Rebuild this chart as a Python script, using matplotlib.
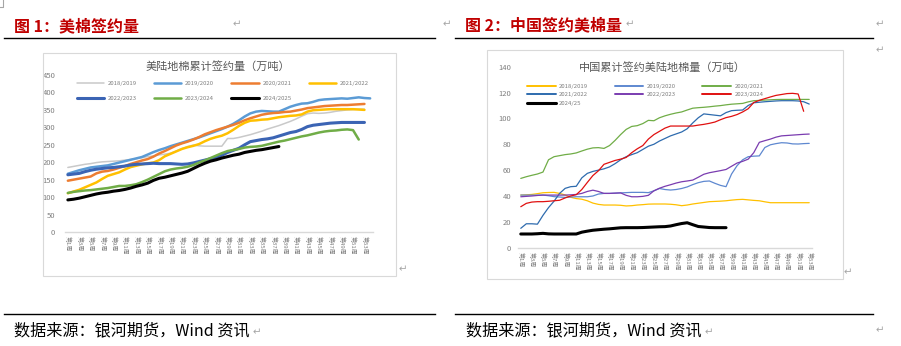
import matplotlib
matplotlib.use('Agg')
import matplotlib.pyplot as plt
from matplotlib.lines import Line2D
from matplotlib.patches import Rectangle

plt.rcParams['font.family'] = ['Noto Sans CJK SC', 'DejaVu Sans']

W, H = 901, 346

# ---------- 美陆地棉累计签约量（万吨），按周 ----------
us_seasons = ['2018/2019', '2019/2020', '2020/2021', '2021/2022',
              '2022/2023', '2023/2024', '2024/2025']
us_1819 = [185, 188, 191, 194, 196, 199, 201, 202, 203, 204, 206, 208, 210, 213, 216, 218, 221, 223,
           226, 232, 239, 245, 249, 247, 246, 246, 246, 246, 268, 268, 271, 275, 279, 284, 289, 295,
           300, 305, 311, 317, 324, 332, 339, 341, 340, 341, 343, 346, 348, 350, 351, 352, 352]
us_1920 = [167, 172, 177, 181, 185, 187, 189, 191, 195, 199, 203, 207, 211, 215, 222, 229, 235, 240,
           246, 251, 256, 261, 266, 271, 277, 283, 289, 295, 302, 310, 320, 331, 340, 345, 347, 346,
           345, 345, 352, 359, 364, 368, 369, 373, 378, 380, 381, 382, 383, 382, 384, 386, 384, 383]
us_2021 = [147, 150, 153, 156, 159, 168, 173, 175, 179, 184, 189, 195, 200, 205, 209, 216, 225, 232,
           240, 248, 254, 259, 265, 272, 280, 286, 292, 297, 302, 307, 313, 320, 326, 331, 336, 339,
           341, 342, 344, 345, 348, 351, 355, 357, 359, 361, 362, 363, 364, 364, 365, 366, 367]
us_2122 = [111, 116, 121, 128, 135, 142, 152, 161, 166, 171, 179, 186, 190, 194, 197, 199, 206, 217,
           224, 231, 238, 243, 247, 252, 260, 267, 272, 276, 283, 293, 304, 313, 319, 320, 322, 323,
           326, 329, 331, 333, 334, 337, 345, 349, 350, 351, 352, 352, 352, 352, 352, 351, 350]
us_2223 = [164, 166, 168, 173, 177, 180, 182, 184, 185, 187, 189, 192, 194, 195, 196, 197, 196, 196,
           196, 195, 194, 195, 198, 202, 206, 210, 214, 220, 228, 234, 240, 250, 259, 262, 265, 267,
           270, 275, 280, 285, 288, 294, 302, 306, 308, 310, 312, 313, 314, 314, 314, 314, 314]
us_2324 = [112, 115, 117, 119, 120, 122, 124, 126, 129, 132, 132, 134, 137, 143, 150, 158, 166, 174,
           179, 182, 184, 187, 192, 199, 205, 212, 219, 226, 232, 235, 238, 242, 244, 245, 247, 251,
           255, 259, 262, 266, 270, 274, 277, 281, 285, 288, 290, 291, 293, 294, 292, 265]
us_2425 = [92, 94, 97, 101, 105, 109, 112, 114, 117, 119, 122, 126, 131, 135, 140, 148, 154, 157,
           161, 165, 169, 174, 182, 190, 197, 203, 207, 212, 216, 220, 223, 228, 231, 234, 236, 239,
           242, 245]
us_values = [us_1819, us_1920, us_2021, us_2122, us_2223, us_2324, us_2425]
us_colors = ['#C9C9C9', '#5B9BD5', '#ED7D31', '#FFC000', '#3B64B4', '#70AD47', '#000000']
us_widths = [1.1, 1.8, 1.8, 1.8, 2.2, 1.8, 2.2]
us_weeks = 54

# ---------- 中国累计签约美陆地棉量（万吨），按周 ----------
cn_seasons = ['2018/2019', '2019/2020', '2020/2021', '2021/2022',
              '2022/2023', '2023/2024', '2024/25']
cn_1819 = [40.7, 40.9, 41.2, 41.8, 42.5, 42.7, 42.8, 42.0, 40.8, 39.0, 38.0, 37.5, 36.3, 34.5, 33.5,
           33.0, 33.0, 33.0, 32.8, 32.3, 32.5, 33.0, 33.3, 33.7, 33.8, 33.8, 33.8, 33.6, 33.2, 32.5,
           33.0, 33.8, 34.4, 35.0, 35.6, 35.8, 36.0, 36.3, 36.8, 37.2, 37.4, 37.0, 36.6, 36.3, 35.5,
           34.8, 34.8, 34.8, 34.8, 34.8, 34.8, 34.8, 34.8]
cn_1920 = [40.7, 40.7, 40.7, 40.7, 40.7, 40.2, 39.5, 39.2, 38.9, 39.2, 39.4, 39.4, 39.4, 40.0, 41.5,
           42.0, 42.0, 42.2, 42.4, 42.6, 42.8, 42.8, 42.8, 42.6, 44.0, 45.8, 45.0, 44.6, 45.0, 45.8,
           47.0, 48.8, 50.3, 51.3, 51.6, 49.8, 48.2, 47.2, 57.0, 63.5, 68.0, 70.4, 70.8, 71.0, 77.5,
           79.6, 80.5, 81.2, 81.0, 80.3, 80.2, 80.5, 80.7]
cn_2021 = [53.6, 54.9, 56.0, 57.0, 58.5, 68.0, 70.4, 71.2, 72.0, 72.5, 73.3, 74.8, 76.2, 77.2, 77.4,
           76.8, 79.0, 83.0, 87.5, 91.5, 93.8, 94.4, 96.0, 98.5, 98.2, 100.5, 102.0, 103.2, 104.2,
           105.0, 106.5, 107.9, 108.3, 108.6, 109.0, 109.5, 109.9, 110.5, 111.0, 111.3, 111.6, 112.8,
           113.7, 113.9, 114.2, 114.4, 114.6, 114.7, 114.7, 114.7, 114.7, 114.7, 114.7]
cn_2122 = [15.0, 18.5, 18.5, 18.2, 25.0, 31.0, 36.0, 42.0, 45.9, 47.2, 47.5, 54.0, 57.5, 59.0, 60.0,
           61.0, 62.5, 65.0, 68.0, 70.4, 72.0, 73.5, 76.0, 78.5, 80.0, 82.5, 84.5, 86.5, 88.0, 89.5,
           92.0, 96.5, 100.5, 103.5, 103.0, 102.5, 102.0, 104.5, 106.0, 106.3, 106.5, 110.0, 112.1,
           112.5, 112.9, 113.2, 113.5, 113.7, 113.7, 113.7, 113.5, 112.9, 111.1]
cn_2223 = [39.4, 39.7, 40.0, 40.4, 40.7, 40.7, 40.7, 40.7, 40.7, 40.9, 41.2, 42.0, 43.5, 44.5, 43.5,
           42.0, 42.0, 42.2, 42.4, 40.5, 39.4, 39.4, 39.7, 40.5, 44.0, 46.0, 47.5, 48.7, 50.0, 51.0,
           51.6, 52.3, 54.5, 56.8, 58.0, 58.8, 59.6, 60.5, 63.0, 65.5, 66.8, 68.5, 73.5, 81.5, 82.8,
           84.0, 85.5, 86.5, 86.8, 87.1, 87.4, 87.7, 87.9]
cn_2324 = [31.7, 34.3, 35.3, 35.6, 35.6, 35.9, 36.3, 36.7, 38.5, 40.0, 41.0, 45.0, 50.5, 55.8, 59.5,
           64.5, 66.0, 67.5, 68.5, 69.8, 73.5, 76.5, 79.0, 84.0, 87.5, 90.0, 92.5, 94.1, 94.1, 94.1,
           94.1, 94.1, 94.8, 95.4, 96.2, 97.2, 99.0, 100.6, 101.6, 103.0, 105.0, 107.5, 112.3, 114.0,
           115.3, 116.6, 117.8, 118.5, 119.2, 119.4, 118.9, 105.5]
cn_2425 = [10.6, 10.6, 10.6, 10.8, 11.1, 10.7, 10.6, 10.6, 10.6, 10.6, 10.6, 12.0, 12.8, 13.5, 13.9,
           14.3, 14.6, 15.0, 15.4, 15.5, 15.5, 15.5, 15.6, 15.8, 16.0, 16.2, 16.3, 16.8, 17.8, 18.7,
           19.3, 17.8, 16.4, 16.0, 15.6, 15.5, 15.5, 15.5]
cn_values = [cn_1819, cn_1920, cn_2021, cn_2122, cn_2223, cn_2324, cn_2425]
cn_colors = ['#FFC000', '#5E88D0', '#70AD47', '#2E6BAE', '#7A3CB0', '#E01010', '#000000']
cn_widths = [0.9, 0.9, 0.9, 0.9, 0.9, 0.9, 2.2]
cn_weeks = 53

week_labels = ['第%d周' % w for w in range(1, 54, 2)]
GRAY = '#7F7F7F'


def rect(x0, y0, x1, y1):
    # 像素坐标 -> figure 坐标
    return [x0 / W, 1 - y1 / H, (x1 - x0) / W, (y1 - y0) / H]


def fx(x):
    return x / W


def fy(y):
    return 1 - y / H


def style_axis(ax, nweeks, ymax, ystep, ypad):
    for s in ['top', 'right', 'left']:
        ax.spines[s].set_visible(False)
    ax.spines['bottom'].set_color('#D9D9D9')
    ax.spines['bottom'].set_linewidth(1.0)
    ax.set_xlim(0.5, nweeks + 0.5)
    ax.set_ylim(0, ymax)
    ax.set_yticks(range(0, ymax + 1, ystep))
    ax.tick_params(axis='y', length=0, pad=ypad, labelsize=5.5, labelcolor=GRAY)
    ax.set_xticks(range(1, 54, 2))
    ax.set_xticklabels(week_labels, rotation=270, fontsize=4.3, color=GRAY)
    ax.tick_params(axis='x', length=0, pad=3)
    ax.patch.set_alpha(0)


fig = plt.figure(figsize=(W / 100, H / 100), dpi=100)

# 图框
fig.add_artist(Rectangle((fx(43), fy(276)), (396 - 43) / W, (276 - 53) / H,
                         transform=fig.transFigure, fill=False, edgecolor='#D9D9D9', lw=0.8))
fig.add_artist(Rectangle((fx(487), fy(279)), (843 - 487) / W, (279 - 50) / H,
                         transform=fig.transFigure, fill=False, edgecolor='#D9D9D9', lw=0.8))

# 左图：美棉签约量
ax1 = fig.add_axes(rect(65, 75, 373, 232))
lines1 = []
for name, vals, c, lw in zip(us_seasons, us_values, us_colors, us_widths):
    ln, = ax1.plot(range(1, len(vals) + 1), vals, color=c, lw=lw, label=name,
                   solid_joinstyle='round', solid_capstyle='round')
    lines1.append(ln)
style_axis(ax1, us_weeks, 450, 50, 7)
order1 = [0, 4, 1, 5, 2, 6, 3]
fig.legend([lines1[i] for i in order1], [us_seasons[i] for i in order1], ncol=4,
           loc='upper left', bbox_to_anchor=(fx(76.5), fy(81)), frameon=False,
           fontsize=4.3, handlelength=4.6, handletextpad=0.6, columnspacing=2.9,
           labelspacing=1.55, borderpad=0, borderaxespad=0, labelcolor=GRAY)
fig.text(fx(218), fy(66.5), '美陆地棉累计签约量（万吨）', ha='center', va='center',
         fontsize=8, color='#595959')

# 右图：中国签约美棉量
ax2 = fig.add_axes(rect(518, 66.7, 812, 247.7))
lines2 = []
for name, vals, c, lw in zip(cn_seasons, cn_values, cn_colors, cn_widths):
    ln, = ax2.plot(range(1, len(vals) + 1), vals, color=c, lw=lw, label=name,
                   solid_joinstyle='round', solid_capstyle='round')
    lines2.append(ln)
style_axis(ax2, cn_weeks, 140, 20, 5)
order2 = [0, 3, 6, 1, 4, 2, 5]
leg2 = fig.legend([lines2[i] for i in order2], [cn_seasons[i] for i in order2], ncol=3,
                  loc='upper left', bbox_to_anchor=(fx(527), fy(83.5)), frameon=False,
                  fontsize=4.3, handlelength=4.8, handletextpad=0.6, columnspacing=4.4,
                  labelspacing=0.55, borderpad=0, borderaxespad=0, labelcolor=GRAY)
for h in leg2.legend_handles:
    if h.get_linewidth() < 1.5:
        h.set_linewidth(1.4)
fig.text(fx(662), fy(67), '中国累计签约美陆地棉量（万吨）', ha='center', va='center',
         fontsize=8, color='#595959')

# 标题与分隔线
fig.text(fx(14), fy(26), '图 1：美棉签约量', ha='left', va='center', fontsize=11.5,
         fontweight='bold', color='#C00000')
fig.text(fx(465), fy(25), '图 2：中国签约美棉量', ha='left', va='center', fontsize=11.5,
         fontweight='bold', color='#C00000')
for x0, x1, y in [(4, 435, 38.3), (455, 873, 38.3), (4, 435, 314.3), (455, 873, 314.3)]:
    fig.add_artist(Line2D([fx(x0), fx(x1)], [fy(y), fy(y)], transform=fig.transFigure,
                          color='black', lw=1.0))

# 数据来源
for x in (14, 466):
    fig.text(fx(x), fy(331), '数据来源：银河期货，Wind 资讯', ha='left', va='center',
             fontsize=11.6, color='black')

# 段落标记
marks = [(237, 24), (447, 24), (630, 24), (880, 24), (880, 50), (403, 269), (848, 272),
         (257, 332), (709, 332), (880, 330)]
for x, y in marks:
    fig.text(fx(x), fy(y), '\u21b5', ha='center', va='center', fontsize=7.5,
             color='#A6A6A6', family='DejaVu Sans')
fig.add_artist(Line2D([fx(3), fx(3), fx(0)], [fy(0), fy(7), fy(7)], transform=fig.transFigure,
                      color='#A6A6A6', lw=0.8))

fig.savefig('out.png', dpi=100, facecolor='white')
